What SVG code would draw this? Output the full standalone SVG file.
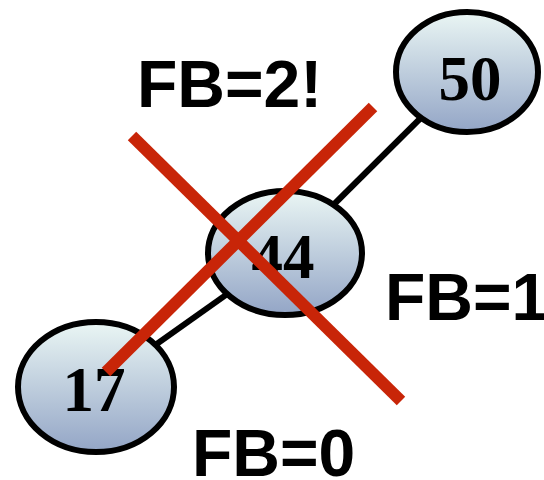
<svg xmlns="http://www.w3.org/2000/svg" width="544" height="480" viewBox="0 0 544 480">
<defs>
<linearGradient id="g" x1="0" y1="0" x2="0" y2="1">
<stop offset="0" stop-color="#eaf6f4"/>
<stop offset="1" stop-color="#93a5c6"/>
</linearGradient>
<style>
.node ellipse{fill:url(#g);stroke:#000;stroke-width:6}
.node text{font-family:"Liberation Serif",serif;font-weight:bold;font-size:63px;text-anchor:middle;fill:#000}
.edge{stroke:#000;stroke-width:6}
.lbl{font-family:"Liberation Sans",Arial,sans-serif;font-weight:bold;font-size:66px;fill:#000}
.x{stroke:#c82508;stroke-width:12}
</style>
</defs>
<g id="edges">
<line class="edge" x1="467" y1="72" x2="285" y2="253"/>
<line class="edge" x1="285" y1="253" x2="96" y2="387"/>
</g>
<g id="n50" class="node"><ellipse cx="467" cy="72" rx="71" ry="60"/><text x="470" y="100">50</text></g>
<g id="n44" class="node"><ellipse cx="285" cy="253" rx="77" ry="62"/><text x="283" y="278">44</text></g>
<g id="n17" class="node"><ellipse cx="96" cy="387" rx="78" ry="65"/><text x="94" y="411">17</text></g>
<g id="labels">
<text class="lbl" x="137" y="107">FB=2!</text>
<text class="lbl" x="385" y="320">FB=1</text>
<text class="lbl" x="192" y="476">FB=0</text>
</g>
<g id="cross">
<line class="x" x1="132" y1="136" x2="401" y2="401"/>
<line class="x" x1="373" y1="107" x2="106" y2="372"/>
</g>
</svg>
